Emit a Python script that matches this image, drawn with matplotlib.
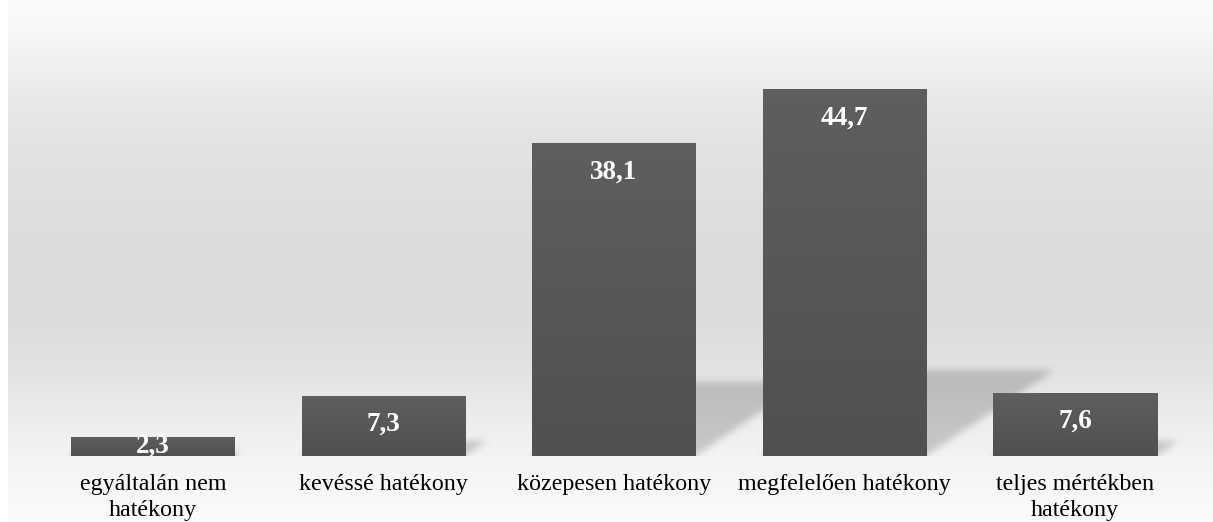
import numpy as np
import matplotlib
matplotlib.use("Agg")
import matplotlib.pyplot as plt

categories = ["egyáltalán nem\nhatékony", "kevéssé hatékony", "közepesen hatékony",
              "megfelelően hatékony", "teljes mértékben\nhatékony"]
values = [2.3, 7.3, 38.1, 44.7, 7.6]
value_labels = ["2,3", "7,3", "38,1", "44,7", "7,6"]

W, H, DPI = 1213, 522, 100
SERIF = "Liberation Serif"

fig = plt.figure(figsize=(W / DPI, H / DPI), dpi=DPI)
fig.patch.set_facecolor("white")

# soft grey backdrop: light at top and bottom, darker in the middle
bg = fig.add_axes([8 / W, 0, 1 - 8 / W, 1])
bg.set_axis_off()
stops_px = [0, 15, 50, 100, 145, 250, 320, 380, 420, 456, 522]
stops_v = [0.98, 0.98, 0.955, 0.915, 0.89, 0.862, 0.865, 0.895, 0.93, 0.955, 0.985]
rows = np.interp(np.arange(H) + 0.5, stops_px, stops_v)
grad = np.repeat(rows[:, None], W - 8, axis=1)
bg_rgb = np.dstack([grad, grad, grad])
bg_img = bg.imshow(bg_rgb, aspect="auto", extent=[0, 1, 0, 1], interpolation="none")
bg.set_xlim(0, 1)
bg.set_ylim(0, 1)

# plot area
base_px, ymax = 456, 50
px_per_unit = 8.19
top_px = base_px - ymax * px_per_unit
ax = fig.add_axes([8 / W, (H - base_px) / H, 1 - 8 / W, (base_px - top_px) / H])
ax.patch.set_alpha(0)
x_unit = 230.5
xlim = (-(153 - 8) / x_unit, (W - 153) / x_unit)
ax.set_xlim(*xlim)
ax.set_ylim(0, ymax)
for s in ax.spines.values():
    s.set_visible(False)
ax.set_yticks([])

x = np.arange(len(values))
width = 164 / x_unit

# blurred perspective shadows cast to the upper right
nx, ny = W - 8, int(round(ymax * px_per_unit))
gx = np.linspace(xlim[0], xlim[1], nx)
gy = np.linspace(ymax, 0, ny)
XX, YY = np.meshgrid(gx, gy)
shear = 1.5 * px_per_unit / x_unit
mask = np.zeros_like(XX)
for xi, v in zip(x, values):
    hs = 0.235 * v
    inside = ((YY >= 0) & (YY <= hs) & (XX >= xi - width / 2 + shear * YY)
              & (XX <= xi + width / 2 + shear * YY))
    mask[inside] = 1.0
sig = 3.5
k = np.arange(-12, 13)
kern = np.exp(-k ** 2 / (2 * sig ** 2))
kern /= kern.sum()
pad = np.pad(mask, 12, mode="edge")
pad = np.apply_along_axis(lambda r: np.convolve(r, kern, mode="same"), 1, pad)
pad = np.apply_along_axis(lambda c: np.convolve(c, kern, mode="same"), 0, pad)
blur = np.clip(pad[12:-12, 12:-12], 0, 1)

# shadow blended straight into the backdrop colour
r0 = int(round(top_px))
shaded = rows[r0:r0 + ny][:, None] * (1 - 0.18 * blur)
bg_rgb[r0:r0 + ny] = np.dstack([shaded, shaded, shaded])
bg_img.set_data(bg_rgb)

# bars with a slight top-to-bottom gradient
bars = ax.bar(x, values, width=width, color="#575757", zorder=2)
shade = np.linspace(0.37, 0.315, 64)
for b in bars:
    ax.imshow(np.repeat(shade[:, None, None], 3, axis=2), aspect="auto", zorder=3,
              extent=[b.get_x(), b.get_x() + b.get_width(), 0, b.get_height()],
              interpolation="bilinear")

for xi, v, lab in zip(x, values, value_labels):
    ax.text(xi, max(v - 3.4, v / 2), lab, ha="center", va="center", color="white",
            fontsize=19.5, fontweight="bold", family=SERIF, zorder=4)

ax.set_xlim(*xlim)
ax.set_ylim(0, ymax)
ax.set_xticks(x)
ax.set_xticklabels(categories, fontsize=17.3, family=SERIF, color="black", linespacing=1.3)
ax.tick_params(axis="x", length=0, pad=13)

fig.savefig("out.png", dpi=DPI)
